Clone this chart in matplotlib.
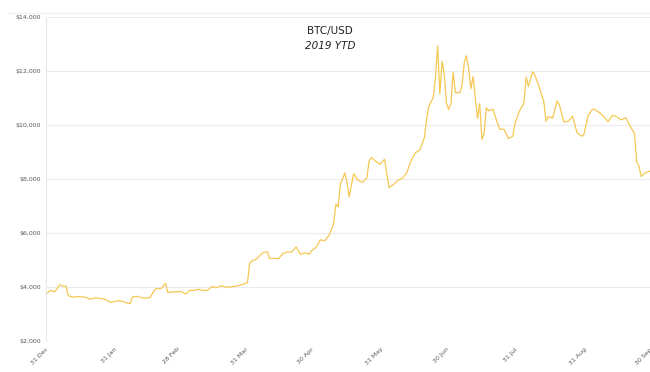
import matplotlib.pyplot as plt
import matplotlib.ticker as mticker
import pandas as pd

# BTC/USD 2019 YTD
dates = ['2018-12-31', '2019-01-02', '2019-01-04', '2019-01-06', '2019-01-08', '2019-01-09',
         '2019-01-10', '2019-01-12', '2019-01-14', '2019-01-16', '2019-01-18', '2019-01-20',
         '2019-01-22', '2019-01-25', '2019-01-27', '2019-01-29', '2019-01-31', '2019-02-02',
         '2019-02-04', '2019-02-06', '2019-02-07', '2019-02-08', '2019-02-10', '2019-02-12',
         '2019-02-14', '2019-02-16', '2019-02-18', '2019-02-19', '2019-02-21', '2019-02-23',
         '2019-02-24', '2019-02-26', '2019-02-28', '2019-03-02', '2019-03-04', '2019-03-06',
         '2019-03-08', '2019-03-10', '2019-03-12', '2019-03-14', '2019-03-16', '2019-03-18',
         '2019-03-20', '2019-03-22', '2019-03-24', '2019-03-26', '2019-03-28', '2019-03-30',
         '2019-04-01', '2019-04-02', '2019-04-03', '2019-04-05', '2019-04-07', '2019-04-08',
         '2019-04-10', '2019-04-11', '2019-04-13', '2019-04-15', '2019-04-17', '2019-04-19',
         '2019-04-21', '2019-04-23', '2019-04-25', '2019-04-27', '2019-04-29', '2019-04-30',
         '2019-05-02', '2019-05-04', '2019-05-06', '2019-05-08', '2019-05-10', '2019-05-11',
         '2019-05-12', '2019-05-13', '2019-05-14', '2019-05-15', '2019-05-16', '2019-05-17',
         '2019-05-19', '2019-05-21', '2019-05-23', '2019-05-25', '2019-05-26', '2019-05-27',
         '2019-05-29', '2019-05-31', '2019-06-02', '2019-06-04', '2019-06-06', '2019-06-08',
         '2019-06-10', '2019-06-12', '2019-06-14', '2019-06-16', '2019-06-18', '2019-06-20',
         '2019-06-21', '2019-06-22', '2019-06-24', '2019-06-25', '2019-06-26', '2019-06-27',
         '2019-06-28', '2019-06-29', '2019-06-30', '2019-07-01', '2019-07-02', '2019-07-03',
         '2019-07-04', '2019-07-06', '2019-07-07', '2019-07-08', '2019-07-09', '2019-07-10',
         '2019-07-11', '2019-07-12', '2019-07-14', '2019-07-15', '2019-07-16', '2019-07-17',
         '2019-07-18', '2019-07-19', '2019-07-21', '2019-07-22', '2019-07-24', '2019-07-26',
         '2019-07-28', '2019-07-30', '2019-07-31', '2019-08-02', '2019-08-04', '2019-08-05',
         '2019-08-06', '2019-08-08', '2019-08-09', '2019-08-11', '2019-08-13', '2019-08-14',
         '2019-08-15', '2019-08-17', '2019-08-19', '2019-08-20', '2019-08-22', '2019-08-24',
         '2019-08-26', '2019-08-28', '2019-08-30', '2019-08-31', '2019-09-02', '2019-09-04',
         '2019-09-05', '2019-09-07', '2019-09-09', '2019-09-11', '2019-09-13', '2019-09-15',
         '2019-09-17', '2019-09-19', '2019-09-21', '2019-09-23', '2019-09-24', '2019-09-25',
         '2019-09-26', '2019-09-28', '2019-09-30']

prices = [3740, 3880, 3830, 4080, 4030, 4040,
          3680, 3630, 3650, 3640, 3620, 3550,
          3600, 3580, 3540, 3440, 3470, 3500,
          3460, 3400, 3400, 3640, 3660, 3610,
          3590, 3620, 3890, 3950, 3950, 4140,
          3800, 3820, 3830, 3840, 3740, 3880,
          3880, 3920, 3880, 3880, 4020, 3980,
          4050, 4010, 4000, 4030, 4050, 4110,
          4160, 4880, 4970, 5030, 5200, 5270,
          5310, 5060, 5070, 5050, 5240, 5300,
          5300, 5490, 5210, 5270, 5220, 5350,
          5470, 5750, 5720, 5930, 6370, 7080,
          6970, 7820, 8000, 8230, 7890, 7340,
          8200, 7960, 7880, 8050, 8670, 8800,
          8660, 8550, 8740, 7680, 7800, 7950,
          8030, 8230, 8690, 8980, 9080, 9530,
          10210, 10700, 11020, 11740, 12930, 11160,
          12370, 11870, 10800, 10580, 10800, 11960,
          11210, 11200, 11450, 12290, 12570, 12100,
          11350, 11800, 10250, 10800, 9470, 9690,
          10640, 10530, 10590, 10330, 9850, 9850,
          9500, 9590, 10080, 10520, 10820, 11780,
          11440, 11980, 11840, 11390, 10870, 10140,
          10320, 10260, 10900, 10760, 10120, 10140,
          10330, 9720, 9590, 9620, 10350, 10590,
          10580, 10470, 10330, 10130, 10360, 10310,
          10190, 10280, 9970, 9680, 8620, 8490,
          8100, 8240, 8290]

tick_dates = ['2018-12-31', '2019-01-31', '2019-02-28', '2019-03-31', '2019-04-30',
              '2019-05-31', '2019-06-30', '2019-07-31', '2019-08-31', '2019-09-30']

df = pd.DataFrame({'date': pd.to_datetime(dates), 'price': prices})

fig = plt.figure(figsize=(6.5, 3.72), dpi=100, facecolor='white')
ax = fig.add_axes([0.071, 0.083, 0.929, 0.871])

ax.plot(df['date'], df['price'], color='#f6c853', linewidth=0.9)

ax.set_ylim(2000, 14000)
ax.set_xlim(pd.Timestamp(dates[0]), pd.Timestamp(dates[-1]))
ax.yaxis.set_major_locator(mticker.MultipleLocator(2000))
ax.yaxis.set_major_formatter(mticker.FuncFormatter(lambda v, p: f'${v:,.0f}'))

ticks = pd.to_datetime(tick_dates)
ax.set_xticks(ticks)
ax.set_xticklabels([d.strftime('%d %b') for d in ticks], rotation=45, ha='right',
                   rotation_mode='anchor')

ax.grid(axis='y', color='#ececec', linewidth=0.8)
ax.set_axisbelow(True)
for s in ['top', 'right', 'bottom']:
    ax.spines[s].set_visible(False)
ax.spines['left'].set_color('#e8e8e8')
ax.tick_params(length=0, labelsize=4.5, labelcolor='#555555', pad=4)

# Title
fig.text(0.508, 0.93, 'BTC/USD', ha='center', va='top', fontsize=7.5, color='#222222')
fig.text(0.508, 0.89, '2019 YTD', ha='center', va='top', fontsize=7.5,
         style='italic', color='#222222')

# faint outer frame
fig.add_artist(plt.Line2D([0.012, 1.0], [0.965, 0.965], color='#eeeeee', linewidth=0.8))

fig.savefig('out.png', dpi=100, facecolor='white')
